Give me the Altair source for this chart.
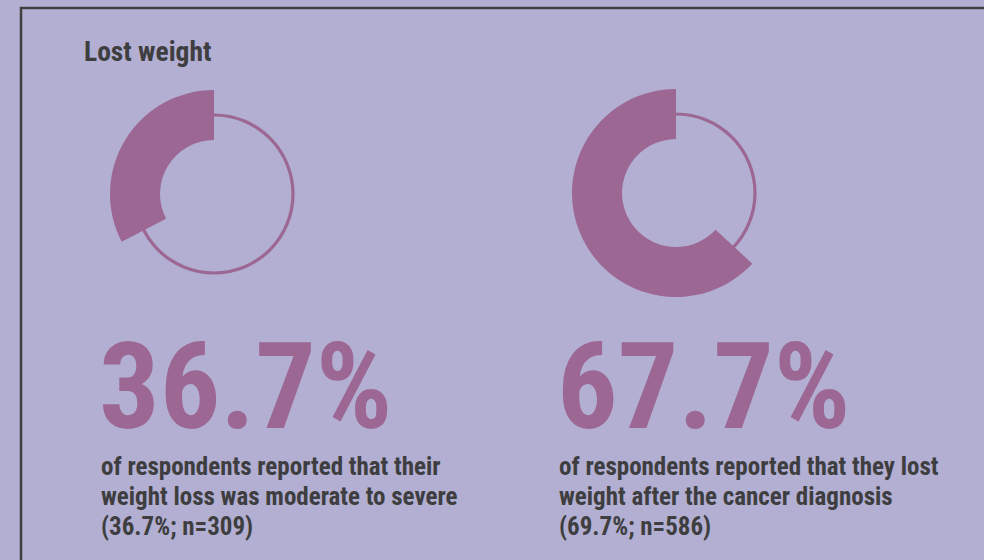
import math
import altair as alt
import pandas as pd

# ---- data ----
panels = ["moderate_to_severe", "lost_weight"]
headline = ["36.7%", "67.7%"]
# share of the ring covered by the thick arc, as drawn
arc_share = [32.6, 63.1]
descriptions = [
    ["of respondents reported that their", "weight loss was moderate to severe", "(36.7%; n=309)"],
    ["of respondents reported that they lost", "weight after the cancer diagnosis", "(69.7%; n=586)"],
]
title_text = "Lost weight"

# ---- layout / style ----
W, H = 984, 560
BG = "#b2afd2"
PURPLE = "#9c6792"
DARK = "#3e3e40"
FONT = "Roboto Condensed, Liberation Sans Narrow, DejaVu Sans Condensed, Arial Narrow, sans-serif"
CENTERS = [(214, 194), (676, 193)]
TEXT_X = [101, 559]
R_OUT, R_IN, R_RING = 104, 54, 79

df = pd.DataFrame({"panel": panels, "headline": headline, "share": arc_share})

theta_scale = alt.Scale(domain=[0, 100], range=[0, 2 * math.pi])

layers = []

# frame (top and left edges)
layers.append(alt.Chart(pd.DataFrame({"k": [0]})).mark_rule(color="#404040", strokeWidth=2.5).encode(
    x=alt.value(20), x2=alt.value(W), y=alt.value(8)))
layers.append(alt.Chart(pd.DataFrame({"k": [0]})).mark_rule(color="#404040", strokeWidth=2.5).encode(
    x=alt.value(21), y=alt.value(7), y2=alt.value(H)))

# title
layers.append(alt.Chart(pd.DataFrame({"t": [title_text]})).mark_text(
    font=FONT, fontSize=27.5, fontWeight="bold", color=DARK, align="left", baseline="alphabetic"
).encode(text="t:N", x=alt.value(84), y=alt.value(61)))

for i, p in enumerate(panels):
    cx, cy = CENTERS[i]
    base = alt.Chart(df).transform_filter(alt.datum.panel == p)
    # thin full ring
    ring = base.mark_arc(radius=R_RING + 1.6, radius2=R_RING - 1.6, color=PURPLE).encode(
        theta=alt.value(0), theta2=alt.value(2 * math.pi), x=alt.value(cx), y=alt.value(cy))
    # thick arc running counter-clockwise from 12 o'clock
    arc = base.transform_calculate(start="100 - datum.share", end="100").mark_arc(
        radius=R_OUT, radius2=R_IN, color=PURPLE
    ).encode(
        theta=alt.Theta("start:Q", scale=theta_scale),
        theta2="end:Q",
        x=alt.value(cx), y=alt.value(cy),
    )
    big = base.mark_text(font=FONT, fontSize=120, fontWeight="bold", color=PURPLE,
                         align="left", baseline="alphabetic").encode(
        text="headline:N", x=alt.value(TEXT_X[i] - 2), y=alt.value(428))
    desc_df = pd.DataFrame({"line": descriptions[i], "n": list(range(len(descriptions[i])))})
    desc = alt.Chart(desc_df).mark_text(font=FONT, fontSize=25, fontWeight="bold", color=DARK,
                                         align="left", baseline="alphabetic").encode(
        text="line:N", x=alt.value(TEXT_X[i]),
        y=alt.Y("n:Q", scale=alt.Scale(domain=[0, 2], range=[475, 535]), axis=None))
    layers += [ring, arc, big, desc]

chart = alt.layer(*layers).properties(
    width=W, height=H, padding=0, background=BG, autosize=alt.AutoSizeParams(type="none")
).configure_view(stroke=None).resolve_scale(y="independent")

chart.save("out.html", embed_options={"renderer": "svg", "actions": False})
